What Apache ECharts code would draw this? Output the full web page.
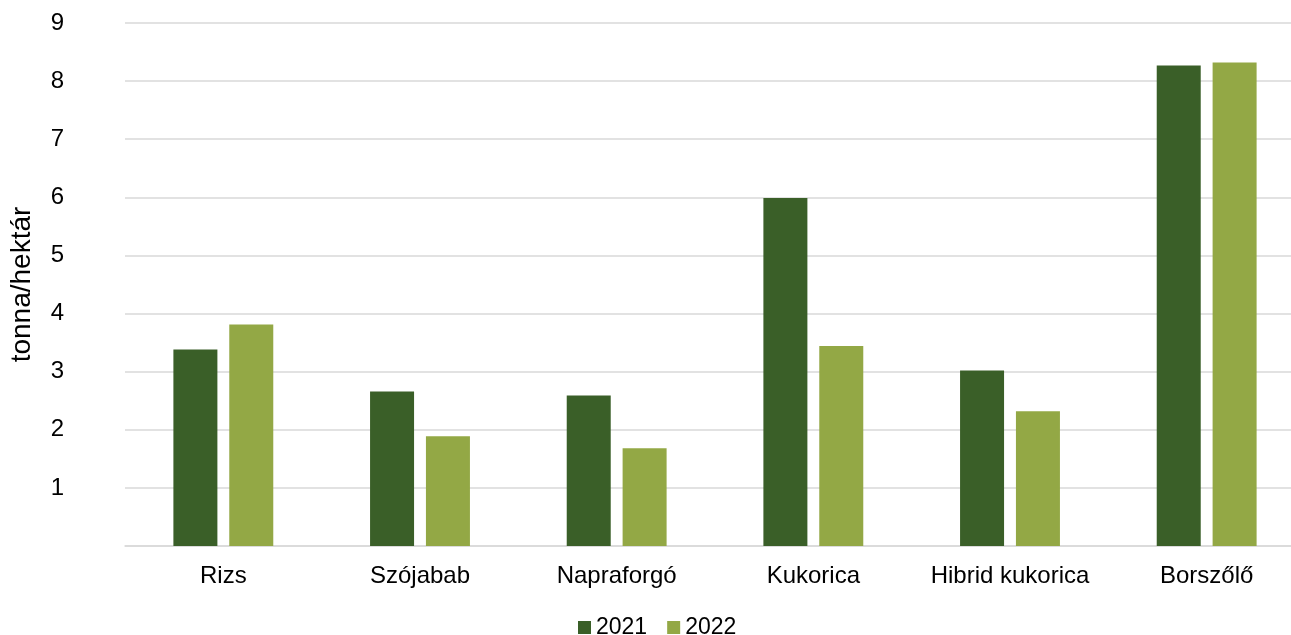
<!DOCTYPE html>
<html><head><meta charset="utf-8">
<script src="https://cdn.jsdelivr.net/npm/echarts@6/dist/echarts.min.js"></script>
<style>html,body{margin:0;padding:0;background:#fff}#c{width:1291px;height:635px}</style>
</head><body><div id="c"></div>
<script>
const categories = ['Rizs','Szójabab','Napraforgó','Kukorica','Hibrid kukorica','Borszőlő'];
const series2021 = [3.38, 2.66, 2.59, 5.99, 3.02, 8.27];
const series2022 = [3.81, 1.89, 1.68, 3.44, 2.32, 8.32];
const yTicks = [0,1,2,3,4,5,6,7,8,9];
const font = 'Liberation Sans, Arial, sans-serif';
const chart = echarts.init(document.getElementById('c'), null, {renderer:'canvas'});
chart.setOption({
  animation:false,
  grid:{left:125,width:1180,top:23,bottom:89,containLabel:false,outerBoundsMode:'none'},
  legend:{top:616,left:578,padding:0,itemWidth:13,itemHeight:13,itemGap:20,icon:'rect',
    textStyle:{fontFamily:font,fontSize:23,color:'#000'},
    data:['2021','2022']},
  xAxis:{type:'category',data:categories,
    axisLine:{lineStyle:{color:'#d9d9d9',width:1.5}},axisTick:{show:false},
    axisLabel:{fontFamily:font,fontSize:24,color:'#000',margin:18,interval:0}},
  yAxis:{type:'value',min:yTicks[0],max:yTicks[yTicks.length-1],interval:1,
    name:'tonna/hektár',nameLocation:'middle',nameGap:89,nameRotate:90,
    nameTextStyle:{fontFamily:font,fontSize:28,color:'#000'},
    axisLine:{show:false},axisTick:{show:false},
    splitLine:{lineStyle:{color:'#d9d9d9',width:1.5}},
    axisLabel:{fontFamily:font,fontSize:24,color:'#000',margin:61,
      formatter:v=>v===0?'':String(v)}},
  series:[
    {name:'2021',type:'bar',data:series2021,barWidth:44,barGap:'27%',
     itemStyle:{color:'#3a5f28'}},
    {name:'2022',type:'bar',data:series2022,barWidth:44,
     itemStyle:{color:'#93a845'}}
  ]
});
</script></body></html>
